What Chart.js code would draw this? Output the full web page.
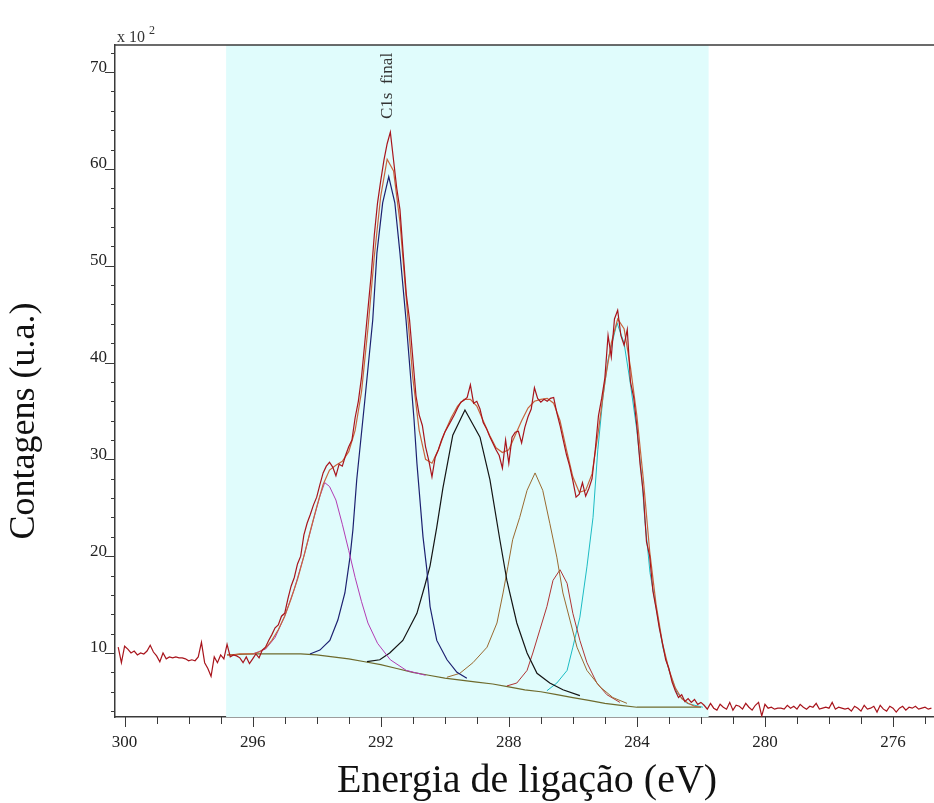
<!DOCTYPE html>
<html>
<head>
<meta charset="utf-8">
<script src="https://cdn.jsdelivr.net/npm/chart.js@4.4.0/dist/chart.umd.min.js"></script>
<style>
    html, body { margin: 0; padding: 0; background: #fff; }
</style>
</head>
<body>
<canvas id="grafica" width="934" height="803"></canvas>
<script>
// Espectro medido (contagens x 100), una lectura cada 0.1 eV desde 300.2 eV.
const inicioBruto = 300.2;
const pasoBruto = 0.1;
const conteosBrutos = [
    10.6, 9.0, 10.7, 10.4, 10.0, 10.2, 9.8, 10.0, 9.9, 10.2,
    10.8, 10.1, 9.7, 9.1, 10.0, 9.4, 9.6, 9.5, 9.6, 9.5,
    9.5, 9.4, 9.2, 9.3, 9.2, 9.6, 11.1, 9.0, 8.4, 7.6,
    9.6, 9.0, 9.8, 9.4, 10.9, 9.6, 9.8, 9.7, 9.5, 9.0,
    9.6, 8.9, 9.4, 9.9, 9.5, 10.3, 10.6, 11.3, 11.9, 12.6,
    12.9, 13.8, 14.1, 15.6, 16.9, 17.8, 19.2, 20.0, 22.2, 23.4,
    24.3, 25.3, 26.1, 27.4, 28.6, 29.3, 29.7, 29.2, 28.3, 29.5,
    29.3, 30.4, 31.3, 32.0, 34.3, 36.0, 38.5, 42.0, 45.5, 49.0,
    53.2, 56.5, 58.8, 60.9, 62.6, 63.8, 60.9, 58.0, 55.8, 51.3,
    47.0, 44.4, 40.5, 36.6, 34.6, 33.5, 31.3, 29.9, 28.2, 30.2,
    31.0, 32.0, 32.8, 33.4, 34.0, 34.6, 35.3, 35.9, 36.1, 36.4,
    37.7, 35.8, 36.0, 35.2, 33.8, 33.2, 32.4, 31.7, 31.0, 30.4,
    29.1, 32.0, 29.6, 32.3, 32.8, 32.9, 31.7, 33.3, 34.4, 35.2,
    37.4, 36.3, 35.9, 36.2, 36.0, 36.3, 36.4, 34.8, 33.5, 32.0,
    30.5, 29.3, 27.8, 26.1, 26.4, 27.6, 26.2, 27.0, 28.0, 31.0,
    34.5, 36.3, 38.4, 42.8, 40.6, 44.5, 45.4, 42.8, 41.8, 43.4,
    38.0, 36.4, 33.4, 29.5, 26.5, 21.5, 20.0, 16.4, 14.6, 12.6,
    11.0, 9.3, 8.4, 7.0, 6.1, 5.4, 5.7, 5.0, 5.3, 4.9,
    5.2, 4.7, 4.9, 4.6, 4.2, 4.8, 4.3, 4.1, 4.7, 4.4,
    4.2, 4.9, 4.1, 4.6, 4.5, 4.2, 4.8, 4.4, 4.1, 4.6,
    4.9, 3.5, 4.7, 4.3, 4.4, 4.2, 4.3, 4.3, 4.2, 4.6,
    4.3, 4.5, 4.2, 4.7, 4.4, 4.2, 4.5, 4.4, 4.8, 4.2,
    4.3, 4.4, 4.3, 4.9, 4.2, 4.4, 4.3, 4.2, 4.3, 4.0,
    4.5, 4.3, 4.0, 4.6, 4.2, 4.3, 4.5, 3.9, 4.6, 4.2,
    4.0, 4.5, 4.3, 3.9, 4.3, 4.5, 4.1, 4.4, 4.3, 4.5,
    4.2, 4.3, 4.4, 4.2, 4.3
];

// Envolvente del ajuste, cada 0.2 eV desde 296.8 eV.
const inicioEnvolvente = 296.8;
const pasoEnvolvente = 0.2;
const envolvente = [
    9.8, 9.8, 9.9, 9.9, 9.9, 10.1, 10.5, 11.3, 12.4, 13.8,
    15.6, 17.6, 20.0, 22.6, 25.1, 27.4, 28.9, 29.4, 29.8, 30.8,
    33.0, 37.0, 43.5, 51.0, 57.2, 61.0, 59.8, 54.5, 46.5, 38.5,
    33.0, 30.0, 29.6, 31.0, 32.8, 34.3, 35.5, 36.2, 36.2, 35.5,
    34.0, 32.5, 31.2, 30.7, 31.0, 32.5, 34.0, 35.3, 36.0, 36.2,
    36.3, 35.8, 34.0, 31.0, 28.2, 26.6, 26.8, 28.5, 33.0, 38.0,
    42.0, 44.5, 43.5, 39.5, 34.5, 28.0, 20.5, 15.0, 11.0, 8.3,
    6.4, 5.3, 4.8, 4.5, 4.4
];

// Fondo tipo Shirley.
const energiaFondo = [296.8, 296.0, 295.0, 294.5, 294.0, 293.5, 293.0, 292.5, 292.0, 291.5, 291.0, 290.5, 290.0, 289.5, 289.0, 288.5, 288.0, 287.5, 287.0, 286.5, 286.0, 285.5, 285.0, 284.5, 284.0, 283.0, 282.0];
const fondo = [9.8, 9.9, 9.9, 9.9, 9.8, 9.6, 9.4, 9.1, 8.8, 8.4, 8.0, 7.7, 7.4, 7.2, 7.0, 6.8, 6.5, 6.2, 6.0, 5.7, 5.4, 5.1, 4.8, 4.6, 4.4, 4.4, 4.4];

// Componentes del ajuste C1s.
const energiaMagenta = [296.0, 295.6, 295.3, 295.0, 294.7, 294.4, 294.1, 293.9, 293.75, 293.6, 293.4, 293.2, 293.0, 292.8, 292.6, 292.4, 292.1, 291.7, 291.2, 290.6];
const picoMagenta = [9.9, 10.4, 11.6, 13.8, 16.6, 20.0, 23.8, 26.2, 27.6, 27.2, 25.8, 23.3, 20.6, 17.8, 15.3, 13.1, 11.0, 9.3, 8.2, 7.7];

const energiaAzul = [294.21, 293.90, 293.59, 293.34, 293.12, 292.96, 292.87, 292.75, 292.50, 292.25, 292.12, 291.94, 291.75, 291.56, 291.40, 291.21, 290.96, 290.87, 290.68, 290.56, 290.46, 290.25, 289.93, 289.62, 289.31];
const picoAzul = [9.9, 10.3, 11.3, 13.4, 16.2, 19.9, 22.7, 27.9, 36.0, 44.4, 51.3, 56.5, 59.2, 56.5, 51.3, 44.4, 34.1, 29.6, 22.0, 18.6, 14.8, 11.3, 9.3, 8.0, 7.4];

const energiaNegro = [292.43, 292.03, 291.72, 291.31, 290.87, 290.62, 290.46, 290.25, 290.06, 289.75, 289.37, 288.90, 288.59, 288.28, 288.06, 287.75, 287.43, 287.12, 286.72, 286.31, 285.78];
const picoNegro = [9.1, 9.3, 10.0, 11.3, 14.1, 17.0, 19.0, 23.0, 27.0, 32.5, 35.1, 32.3, 27.9, 21.7, 17.5, 13.1, 10.0, 7.9, 6.9, 6.2, 5.6];

const energiaMarron = [289.93, 289.53, 289.12, 288.68, 288.37, 288.18, 288.03, 287.88, 287.66, 287.43, 287.18, 286.94, 286.72, 286.50, 286.31, 286.09, 285.87, 285.56, 285.15, 284.75, 284.31];
const picoMarron = [7.5, 7.9, 9.0, 10.6, 13.1, 16.2, 18.9, 21.7, 24.0, 26.8, 28.6, 26.8, 23.4, 19.9, 16.2, 13.4, 10.6, 8.2, 6.5, 5.4, 4.8];

const energiaRojo = [288.06, 287.75, 287.43, 287.25, 287.03, 286.81, 286.62, 286.40, 286.18, 286.00, 285.78, 285.56, 285.25, 284.94, 284.53];
const picoRojo = [6.6, 6.9, 8.2, 10.0, 12.4, 14.8, 17.5, 18.6, 17.2, 14.1, 11.3, 9.0, 6.9, 5.7, 4.9];

const energiaCian = [286.81, 286.50, 286.18, 286.00, 285.78, 285.56, 285.37, 285.22, 285.06, 284.90, 284.62, 284.40, 284.22, 284.00, 283.84, 283.75, 283.59, 283.37, 283.19, 282.97, 282.75, 282.44, 281.94];
const picoCian = [6.1, 6.9, 8.2, 10.6, 13.7, 18.9, 24.0, 31.0, 36.4, 40.3, 44.1, 42.0, 38.2, 33.0, 27.9, 23.7, 18.3, 14.1, 10.6, 7.9, 5.9, 4.8, 4.4];

// Etiquetas de los ejes y zona sombreada del ajuste (eV).
const ticksX = [300, 296, 292, 288, 284, 280, 276];
const ticksY = [10, 20, 30, 40, 50, 60, 70];
const zonaAjuste = [296.83, 281.76];

function pares(xs, ys) {
    return xs.map((x, i) => ({ x: x, y: ys[i] }));
}

function serie(inicio, paso, ys) {
    return ys.map((y, i) => ({ x: +(inicio - i * paso).toFixed(2), y: y }));
}

function linea(datos, color, ancho, orden) {
    return { data: datos, borderColor: color, borderWidth: ancho, order: orden, pointRadius: 0, fill: false, tension: 0 };
}

// Dibuja la zona sombreada, las marcas de los ejes y los textos.
const decoracion = {
    id: 'decoracion',
    beforeDatasetsDraw(c) {
        const ctx = c.ctx;
        const a = c.chartArea;
        const x1 = c.scales.x.getPixelForValue(zonaAjuste[0]);
        const x2 = c.scales.x.getPixelForValue(zonaAjuste[1]);
        ctx.save();
        ctx.fillStyle = '#e0fcfc';
        ctx.fillRect(x1, a.top, x2 - x1, a.bottom - a.top);
        ctx.restore();
    },
    afterDraw(c) {
        const ctx = c.ctx;
        const a = c.chartArea;
        const sx = c.scales.x;
        const sy = c.scales.y;
        ctx.save();
        ctx.strokeStyle = '#3a3a3a';
        ctx.lineWidth = 1.5;
        ctx.beginPath();
        ctx.moveTo(a.left, a.top);
        ctx.lineTo(a.right, a.top);
        ctx.stroke();

        ctx.lineWidth = 1;
        ctx.beginPath();
        sx.ticks.forEach(t => {
            const px = Math.round(sx.getPixelForValue(t.value)) + 0.5;
            const largo = ticksX.includes(t.value) ? 10 : 7;
            ctx.moveTo(px, a.bottom);
            ctx.lineTo(px, a.bottom + largo);
        });
        sy.ticks.forEach(t => {
            const py = Math.round(sy.getPixelForValue(t.value)) + 0.5;
            const largo = ticksY.includes(t.value) ? 10 : 4;
            ctx.moveTo(a.left - largo, py);
            ctx.lineTo(a.left, py);
        });
        ctx.stroke();

        ctx.fillStyle = '#111';
        ctx.textAlign = 'center';
        ctx.textBaseline = 'alphabetic';
        ctx.font = '40px "Liberation Serif", serif';
        ctx.fillText('Energia de ligação (eV)', 527, 792);

        ctx.save();
        ctx.translate(34, 421);
        ctx.rotate(-Math.PI / 2);
        ctx.font = '36px "Liberation Serif", serif';
        ctx.fillText('Contagens (u.a.)', 0, 0);
        ctx.restore();

        ctx.fillStyle = '#333';
        ctx.textAlign = 'left';
        ctx.font = '16px "Liberation Serif", serif';
        ctx.fillText('x 10', 117, 42);
        ctx.font = '12px "Liberation Serif", serif';
        ctx.fillText('2', 149, 34);

        ctx.save();
        ctx.translate(392, 119);
        ctx.rotate(-Math.PI / 2);
        ctx.font = '17px "Liberation Serif", serif';
        ctx.fillText('C1s  final', 0, 0);
        ctx.restore();
        ctx.restore();
    }
};

Chart.defaults.font.family = '"Liberation Serif", "Times New Roman", serif';

const ctx = document.getElementById('grafica').getContext('2d');
const chart = new Chart(ctx, {
    type: 'line',
    data: {
        datasets: [
            linea(serie(inicioBruto, pasoBruto, conteosBrutos), '#a8141c', 1.2, 0),
            linea(serie(inicioEnvolvente, pasoEnvolvente, envolvente), '#c8643c', 1.2, 1),
            linea(pares(energiaMagenta, picoMagenta), '#b23cb4', 1, 2),
            linea(pares(energiaAzul, picoAzul), '#1c2070', 1.2, 2),
            linea(pares(energiaNegro, picoNegro), '#141414', 1.2, 2),
            linea(pares(energiaMarron, picoMarron), '#9a6a30', 1, 2),
            linea(pares(energiaRojo, picoRojo), '#b03434', 1, 2),
            linea(pares(energiaCian, picoCian), '#1cbcc4', 1, 2),
            linea(pares(energiaFondo, fondo), '#6e6a2c', 1.2, 3)
        ]
    },
    options: {
        responsive: false,
        animation: false,
        devicePixelRatio: 1,
        layout: { padding: { top: 45, left: 0, right: 0, bottom: 0 } },
        plugins: { legend: { display: false }, tooltip: { enabled: false } },
        scales: {
            x: {
                type: 'linear',
                reverse: true,
                min: 274.72,
                max: 300.3,
                afterBuildTicks: s => {
                    const lista = [];
                    for (let e = 275; e <= 300; e++) lista.push({ value: e });
                    s.ticks = lista;
                },
                afterFit: s => { s.height = 86; },
                grid: { display: false, drawTicks: false },
                border: { display: true, color: '#3a3a3a', width: 1.5 },
                ticks: {
                    autoSkip: false,
                    maxRotation: 0,
                    padding: 15,
                    color: '#222',
                    font: { size: 17 },
                    callback: v => ticksX.includes(v) ? String(v) : ''
                }
            },
            y: {
                type: 'linear',
                min: 3.39,
                max: 72.8,
                afterBuildTicks: s => {
                    const lista = [];
                    for (let v = 4; v <= 72; v += 2) lista.push({ value: v });
                    s.ticks = lista;
                },
                afterFit: s => { s.width = 115; },
                grid: { display: false, drawTicks: false },
                border: { display: true, color: '#3a3a3a', width: 1.5 },
                ticks: {
                    autoSkip: false,
                    padding: 8,
                    labelOffset: -5,
                    color: '#222',
                    font: { size: 17 },
                    callback: v => ticksY.includes(v) ? String(v) : ''
                }
            }
        }
    },
    plugins: [decoracion]
});
</script>
</body>
</html>
